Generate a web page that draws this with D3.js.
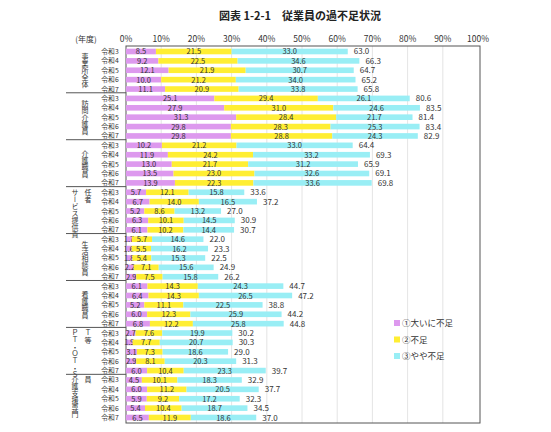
<!DOCTYPE html><html><head><meta charset="utf-8"><script src="https://cdn.jsdelivr.net/npm/d3@7"></script>
<style>body{margin:0;background:#fff}text{font-family:"Noto Sans CJK JP",sans-serif}</style></head><body><svg id="c" width="551" height="432"></svg>
<script>
const groups=[["事業所全体"],["訪問介護員"],["介護職員"],["サービス提供責","任者"],["生活相談員"],["看護職員"],["ＰＴ・ＯＴ・Ｓ","Ｔ等"],["介護支援専門","員"]];
const years=["令和3","令和4","令和5","令和6","令和7"];
const s1=[8.5,9.2,12.1,10.0,11.1, 25.1,27.9,31.3,29.8,29.8, 10.2,11.9,13.0,13.5,13.9, 5.7,6.7,5.2,6.3,6.1, 1.7,1.6,1.8,2.2,2.9, 6.1,6.4,5.2,6.0,6.8, 2.7,1.9,3.1,2.9,6.0, 4.5,6.0,5.9,5.4,6.5];
const s2=[21.5,22.5,21.9,21.2,20.9, 29.4,31.0,28.4,28.3,28.8, 21.2,24.2,21.7,23.0,22.3, 12.1,14.0,8.6,10.1,10.2, 5.7,5.5,5.4,7.1,7.5, 14.3,14.3,11.1,12.3,12.2, 7.6,7.7,7.3,8.1,10.4, 10.1,11.2,9.2,10.4,11.9];
const s3=[33.0,34.6,30.7,34.0,33.8, 26.1,24.6,21.7,25.3,24.3, 33.0,33.2,31.2,32.6,33.6, 15.8,16.5,13.2,14.5,14.4, 14.6,16.2,15.3,15.6,15.8, 24.3,26.5,22.5,25.9,25.8, 19.9,20.7,18.6,20.3,23.3, 18.3,20.5,17.2,18.7,18.6];
const totals=[63.0,66.3,64.7,65.2,65.8, 80.6,83.5,81.4,83.4,82.9, 64.4,69.3,65.9,69.1,69.8, 33.6,37.2,27.0,30.9,30.7, 22.0,23.3,22.5,24.9,26.2, 44.7,47.2,38.8,44.2,44.8, 30.2,30.3,29.0,31.3,39.7, 32.9,37.7,32.3,34.5,37.0];
const seriesNames=["①大いに不足","②不足","③やや不足"];
const colors=["#dd99ee","#ffee33","#99eef5"];
const ticks=[0,10,20,30,40,50,60,70,80,90,100];

const svg=d3.select("#c");
const n=groups.length*years.length;
const x=d3.scaleLinear().domain([0,100]).range([126,478]);
const y=d3.scaleBand().domain(d3.range(n)).range([46.8,422.2]).paddingInner(0.4).paddingOuter(0.2);
svg.append("text").attr("x",300).attr("y",20).attr("text-anchor","middle").attr("font-size",11).attr("font-weight","bold").attr("fill","#222").text("図表 1-2-1　従業員の過不足状況");
svg.append("text").attr("x",86).attr("y",42).attr("text-anchor","middle").attr("font-size",8).attr("fill","#333").text("(年度)");
ticks.forEach(t=>{
 svg.append("text").attr("x",x(t)).attr("y",42).attr("text-anchor","middle").attr("font-size",8.5).attr("fill","#333").text(t+"%");
 if(t>0&&t<100) svg.append("line").attr("x1",x(t)).attr("x2",x(t)).attr("y1",46).attr("y2",423).attr("stroke","#ddd").attr("stroke-width",0.8);
});
svg.append("rect").attr("x",126).attr("y",46).attr("width",354).attr("height",377).attr("fill","none").attr("stroke","#555").attr("stroke-width",1);
const stacks=[s1,s2,s3];
for(let i=0;i<n;i++){
 let acc=0; const yy=y(i);
 stacks.forEach((s,k)=>{
  svg.append("rect").attr("x",x(acc)).attr("y",yy).attr("width",x(acc+s[i])-x(acc)).attr("height",y.bandwidth()).attr("fill",colors[k]);
  svg.append("text").attr("x",(x(acc)+x(acc+s[i]))/2).attr("y",yy+y.bandwidth()/2+3).attr("text-anchor","middle").attr("font-size",7.5).attr("fill","#333").text(s[i].toFixed(1));
  acc+=s[i];
 });
 svg.append("text").attr("x",x(acc)+6).attr("y",yy+y.bandwidth()/2+3).attr("font-size",8).attr("fill","#333").text(totals[i].toFixed(1));
 svg.append("text").attr("x",110).attr("y",yy+y.bandwidth()/2+2.5).attr("text-anchor","middle").attr("font-size",6.8).attr("fill","#333").text(years[i%5]);
}
const step=y.step();
groups.forEach((g,gi)=>{
 const top=y(gi*5)-step*0.3, bot=y(gi*5+4)+y.bandwidth()+step*0.3;
 if(gi>0) svg.append("line").attr("x1",66).attr("x2",126).attr("y1",top).attr("y2",top).attr("stroke","#555");
 g.forEach((line,li)=>{
  const cx=g.length==1?85:(li==0?75:88);
  svg.append("text").attr("x",cx).attr("y",g.length==1?(top+bot)/2:top+2).attr("font-size",7).attr("fill","#333")
   .style("writing-mode","vertical-rl").style("text-orientation","upright").attr("text-anchor",g.length==1?"middle":"start").text(line);
 });
});
seriesNames.forEach((s,k)=>{
 svg.append("rect").attr("x",394).attr("y",320+k*16.5).attr("width",6).attr("height",6).attr("fill",colors[k]);
 svg.append("text").attr("x",402).attr("y",326+k*16.5).attr("font-size",8.5).attr("fill","#333").text(s);
});
</script></body></html>
